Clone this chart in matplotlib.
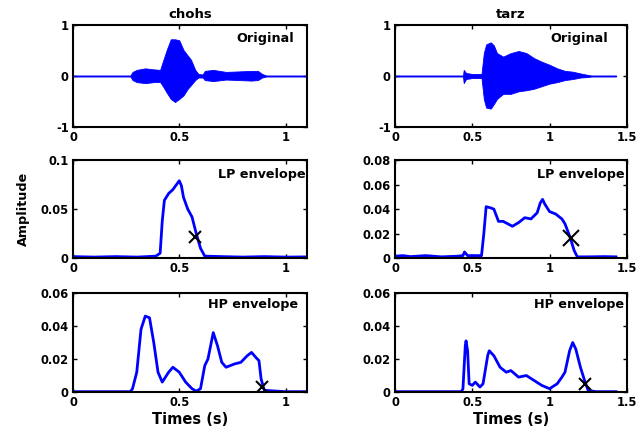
import matplotlib
matplotlib.use("Agg")
import matplotlib.pyplot as plt

plt.rcParams["font.family"] = ["DejaVu Sans"]
plt.rcParams["font.weight"] = "bold"

# ---- chohs: original waveform envelope (upper / lower) ----
chohs_wave_t = [0, 0.27, 0.28, 0.30, 0.34, 0.38, 0.41, 0.42, 0.44, 0.46, 0.48,
                0.50, 0.52, 0.54, 0.555, 0.575, 0.59, 0.61, 0.62, 0.66, 0.72,
                0.78, 0.84, 0.87, 0.89, 0.91, 1.1]
chohs_wave_up = [0.01, 0.01, 0.08, 0.12, 0.15, 0.13, 0.12, 0.25, 0.50, 0.72, 0.72,
                 0.70, 0.51, 0.40, 0.32, 0.12, 0.04, 0.03, 0.10, 0.12, 0.08,
                 0.09, 0.10, 0.10, 0.04, 0.01, 0.01]
chohs_wave_lo = [-0.01, -0.01, -0.08, -0.12, -0.14, -0.12, -0.12, -0.18, -0.32, -0.45, -0.51,
                 -0.45, -0.38, -0.25, -0.18, -0.08, -0.03, -0.03, -0.08, -0.10, -0.07,
                 -0.08, -0.09, -0.08, -0.03, -0.01, -0.01]

# ---- tarz: original waveform envelope ----
tarz_wave_t = [0, 0.44, 0.445, 0.46, 0.50, 0.56, 0.575, 0.59, 0.62, 0.64, 0.66,
               0.70, 0.75, 0.80, 0.85, 0.90, 0.95, 1.00, 1.05, 1.10, 1.15,
               1.20, 1.25, 1.27, 1.43]
tarz_wave_up = [0.01, 0.01, 0.12, 0.06, 0.04, 0.04, 0.45, 0.62, 0.66, 0.60, 0.45,
                0.38, 0.45, 0.49, 0.45, 0.35, 0.28, 0.22, 0.15, 0.10, 0.085,
                0.05, 0.02, 0.01, 0.01]
tarz_wave_lo = [-0.01, -0.01, -0.14, -0.06, -0.04, -0.04, -0.45, -0.62, -0.64, -0.55, -0.45,
                -0.35, -0.35, -0.30, -0.28, -0.25, -0.20, -0.15, -0.12, -0.08, -0.06,
                -0.03, -0.02, -0.01, -0.01]

# ---- chohs: LP envelope ----
chohs_lp_t = [0, 0.1, 0.2, 0.3, 0.35, 0.39, 0.41, 0.42, 0.43, 0.45, 0.47, 0.49,
              0.50, 0.51, 0.52, 0.54, 0.56, 0.58, 0.60, 0.62, 0.7, 0.8, 0.9, 1.0, 1.1]
chohs_lp_v = [0.0015, 0.001, 0.0015, 0.001, 0.0015, 0.002, 0.005, 0.038, 0.059, 0.066,
              0.070, 0.076, 0.079, 0.074, 0.062, 0.050, 0.042, 0.025, 0.010, 0.002,
              0.0015, 0.001, 0.0015, 0.001, 0.0012]
chohs_lp_mark = (0.575, 0.022)

# ---- tarz: LP envelope ----
tarz_lp_t = [0, 0.05, 0.1, 0.2, 0.3, 0.4, 0.44, 0.45, 0.47, 0.56, 0.575, 0.59, 0.62,
             0.64, 0.67, 0.70, 0.73, 0.76, 0.80, 0.84, 0.88, 0.92, 0.94, 0.955, 0.97,
             1.00, 1.04, 1.08, 1.10, 1.13, 1.16, 1.18, 1.25, 1.35, 1.43]
tarz_lp_v = [0.0015, 0.002, 0.0012, 0.002, 0.001, 0.0015, 0.002, 0.005, 0.002, 0.002,
             0.020, 0.042, 0.041, 0.040, 0.030, 0.030, 0.028, 0.026, 0.029, 0.033,
             0.032, 0.037, 0.045, 0.048, 0.044, 0.038, 0.036, 0.032, 0.028, 0.018,
             0.006, 0.001, 0.001, 0.0012, 0.001]
tarz_lp_mark = (1.14, 0.016)

# ---- chohs: HP envelope ----
chohs_hp_t = [0, 0.27, 0.28, 0.30, 0.32, 0.34, 0.36, 0.38, 0.40, 0.42, 0.45, 0.47,
              0.50, 0.53, 0.56, 0.58, 0.60, 0.62, 0.635, 0.66, 0.68, 0.70, 0.72, 0.74,
              0.76, 0.79, 0.82, 0.84, 0.86, 0.875, 0.885, 0.90, 1.0, 1.1]
chohs_hp_v = [0.0002, 0.0002, 0.002, 0.012, 0.038, 0.046, 0.045, 0.030, 0.012, 0.006,
              0.012, 0.015, 0.012, 0.006, 0.002, 0.0005, 0.002, 0.016, 0.020, 0.036,
              0.028, 0.018, 0.015, 0.016, 0.017, 0.018, 0.022, 0.024, 0.021, 0.019,
              0.008, 0.001, 0.0002, 0.0002]
chohs_hp_mark = (0.89, 0.003)

# ---- tarz: HP envelope ----
tarz_hp_t = [0, 0.43, 0.44, 0.455, 0.46, 0.47, 0.48, 0.50, 0.52, 0.55, 0.57, 0.60,
             0.61, 0.64, 0.68, 0.72, 0.75, 0.80, 0.85, 0.90, 0.95, 1.00, 1.05, 1.08,
             1.10, 1.13, 1.15, 1.17, 1.20, 1.23, 1.25, 1.3, 1.43]
tarz_hp_v = [0.0002, 0.0002, 0.002, 0.028, 0.031, 0.025, 0.005, 0.004, 0.006, 0.003,
             0.005, 0.022, 0.025, 0.022, 0.015, 0.012, 0.013, 0.009, 0.010, 0.007,
             0.004, 0.002, 0.005, 0.009, 0.012, 0.025, 0.030, 0.026, 0.015, 0.006,
             0.001, 0.0002, 0.0002]
tarz_hp_mark = (1.23, 0.005)

BLUE = (0, 0, 1)


def style(ax, xmax, xticks, ylim, yticks, yticklabels, label, lx, ly):
    ax.set_xlim(0, xmax)
    ax.set_ylim(*ylim)
    ax.set_xticks(xticks)
    ax.set_xticklabels([("%g" % v) for v in xticks])
    ax.set_yticks(yticks)
    ax.set_yticklabels(yticklabels)
    ax.tick_params(direction="in", top=True, right=True, length=3,
                   labelsize=8.3, width=1, pad=3)
    for s in ax.spines.values():
        s.set_linewidth(1.5)
    ax.text(lx, ly, label, transform=ax.transAxes, ha="right", va="top",
            fontsize=9.2, fontweight="bold")


fig = plt.figure(figsize=(6.37, 4.33), dpi=100)

left_x, left_w = 0.1146, 0.367
right_x, right_w = 0.620, 0.364
rows = [(0.7067, 0.2356), (0.404, 0.226), (0.0947, 0.2286)]

ax1 = fig.add_axes([left_x, rows[0][0], left_w, rows[0][1]])
ax2 = fig.add_axes([right_x, rows[0][0], right_w, rows[0][1]])
ax3 = fig.add_axes([left_x, rows[1][0], left_w, rows[1][1]])
ax4 = fig.add_axes([right_x, rows[1][0], right_w, rows[1][1]])
ax5 = fig.add_axes([left_x, rows[2][0], left_w, rows[2][1]])
ax6 = fig.add_axes([right_x, rows[2][0], right_w, rows[2][1]])

# original waveforms
ax1.fill_between(chohs_wave_t, chohs_wave_lo, chohs_wave_up, color=BLUE, lw=0.6)
ax1.plot([0, 1.1], [0, 0], color=BLUE, lw=0.8)
ax2.fill_between(tarz_wave_t, tarz_wave_lo, tarz_wave_up, color=BLUE, lw=0.6)
ax2.plot([0, 1.43], [0, 0], color=BLUE, lw=0.8)

# envelopes
ax3.plot(chohs_lp_t, chohs_lp_v, color=BLUE, lw=2)
ax4.plot(tarz_lp_t, tarz_lp_v, color=BLUE, lw=2)
ax5.plot(chohs_hp_t, chohs_hp_v, color=BLUE, lw=2)
ax6.plot(tarz_hp_t, tarz_hp_v, color=BLUE, lw=2)

ax3.plot(*chohs_lp_mark, marker="x", color="k", ms=8, mew=1.5)
ax4.plot(*tarz_lp_mark, marker="x", color="k", ms=12, mew=1.5)
ax5.plot(*chohs_hp_mark, marker="x", color="k", ms=8, mew=1.5)
ax6.plot(*tarz_hp_mark, marker="x", color="k", ms=8, mew=1.5)

style(ax1, 1.1, [0, 0.5, 1], (-1, 1), [-1, 0, 1], ["-1", "0", "1"],
      "Original", 0.945, 0.93)
style(ax2, 1.5, [0, 0.5, 1, 1.5], (-1, 1), [-1, 0, 1], ["-1", "0", "1"],
      "Original", 0.92, 0.93)
style(ax3, 1.1, [0, 0.5, 1], (0, 0.1), [0, 0.05, 0.1], ["0", "0.05", "0.1"],
      "LP envelope", 0.995, 0.92)
style(ax4, 1.5, [0, 0.5, 1, 1.5], (0, 0.08), [0, 0.02, 0.04, 0.06, 0.08],
      ["0", "0.02", "0.04", "0.06", "0.08"], "LP envelope", 0.992, 0.92)
style(ax5, 1.1, [0, 0.5, 1], (0, 0.06), [0, 0.02, 0.04, 0.06],
      ["0", "0.02", "0.04", "0.06"], "HP envelope", 0.965, 0.95)
style(ax6, 1.5, [0, 0.5, 1, 1.5], (0, 0.06), [0, 0.02, 0.04, 0.06],
      ["0", "0.02", "0.04", "0.06"], "HP envelope", 0.99, 0.95)

ax1.set_title("chohs", fontsize=9.5, fontweight="bold", pad=5)
ax2.set_title("tarz", fontsize=9.5, fontweight="bold", pad=5)
ax3.set_ylabel("Amplitude", fontsize=9.2, fontweight="bold", labelpad=8)
ax5.set_xlabel("Times (s)", fontsize=10.5, fontweight="bold", labelpad=2)
ax6.set_xlabel("Times (s)", fontsize=10.5, fontweight="bold", labelpad=2)

fig.savefig("out.png", dpi=100)
